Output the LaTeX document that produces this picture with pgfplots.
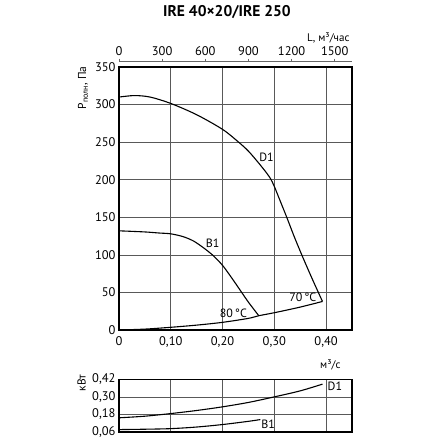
\documentclass[border=0pt]{standalone}
\usepackage{pgfplots}
\pgfplotsset{compat=1.18}
\usepackage{fontspec}
\setmainfont{PT Sans}
\begin{document}
\begin{tikzpicture}
\path[use as bounding box] (0pt,0pt) rectangle (440pt,-440pt);
\node[font=\bfseries\fontsize{15.5}{17}\selectfont] at (227pt,-12.5pt) {IRE 40×20/IRE 250};
\node[anchor=east,font=\fontsize{11}{12}\selectfont] at (353pt,-38pt) {L, м³/час};
\node[anchor=east,font=\fontsize{11}{12}\selectfont] at (344pt,-365pt) {м³/с};
\node[rotate=90,font=\fontsize{11.5}{12}\selectfont] at (83pt,-88pt) {P\textsubscript{полн}, Па};
\node[rotate=90,font=\fontsize{11.5}{12}\selectfont] at (81.5pt,-383pt) {кВт};

% top flow axis (m3/h)
\begin{axis}[at={(119pt,-61.7pt)}, anchor=north west, scale only axis,
  width=233pt, height=1pt, xmin=0, xmax=1620, ymin=0, ymax=1,
  axis x line=top, axis y line=none, axis line style={-, black!60, line width=0.7pt},
  xtick={0,300,600,900,1200,1500}, tick align=outside, major tick length=3pt,
  tick style={black!60, line width=0.6pt},
  tick label style={font=\fontsize{12.5}{14}\selectfont},
  /pgf/number format/assume math mode=true,
  /pgf/number format/set thousands separator={}]
\end{axis}

% main pressure axis
\begin{axis}[at={(119pt,-330pt)}, anchor=south west, scale only axis,
  width=233pt, height=263pt, xmin=0, xmax=0.45, ymin=0, ymax=350,
  xtick={0,0.1,0.2,0.3,0.4}, xticklabels={0,{0,10},{0,20},{0,30},{0,40}},
  ytick={0,50,...,350},
  grid=major, major grid style={black!65, line width=0.7pt},
  axis line style={black, line width=1.1pt}, major tick length=0pt,
  tick label style={font=\fontsize{12.5}{14}\selectfont},
  xticklabel style={yshift=-3pt},
  /pgf/number format/assume math mode=true, clip=false]
\addplot[black, line width=1.1pt, smooth] coordinates {
(0,310) (0.03,312) (0.06,310) (0.1,301.5) (0.15,286.5) (0.2,267) (0.231,250)
(0.25,238) (0.27,222) (0.285,209) (0.293,201) (0.30,191) (0.31,174) (0.324,150)
(0.338,125) (0.353,100) (0.37,73) (0.385,50) (0.393,38)};
\addplot[black, line width=1.1pt, smooth] coordinates {
(0,132) (0.05,130.5) (0.079,129) (0.1,128) (0.124,124.2) (0.144,118.4) (0.163,109.5)
(0.182,99) (0.2,86) (0.217,70) (0.234,53) (0.25,37) (0.27,19)};
\addplot[black, line width=1.1pt, smooth] coordinates {
(0,0) (0.05,1.2) (0.1,3.6) (0.15,6.5) (0.2,10.2) (0.25,15.5) (0.27,19) (0.3,23)
(0.35,30.5) (0.393,38)};
\node[font=\fontsize{12}{13}\selectfont] at (axis cs:0.285,230) {D1};
\node[font=\fontsize{12}{13}\selectfont] at (axis cs:0.181,116) {B1};
\node[font=\fontsize{12}{13}\selectfont] at (axis cs:0.355,44) {70\,°C};
\node[font=\fontsize{12}{13}\selectfont] at (axis cs:0.221,22.5) {80\,°C};
\end{axis}

% power axis
\begin{axis}[at={(119pt,-432pt)}, anchor=south west, scale only axis,
  width=233pt, height=52.7pt, xmin=0, xmax=0.45, ymin=0.06, ymax=0.42,
  xtick={0.1,0.2,0.3,0.4}, xticklabels={},
  ytick={0.06,0.18,0.30,0.42}, yticklabels={{0,06},{0,18},{0,30},{0,42}},
  grid=major, major grid style={black!65, line width=0.7pt},
  axis line style={black, line width=1.1pt}, major tick length=0pt,
  tick label style={font=\fontsize{12.5}{14}\selectfont},
  /pgf/number format/assume math mode=true, clip=false]
\addplot[black, line width=1.1pt, smooth] coordinates {
(0,0.157) (0.05,0.168) (0.1,0.186) (0.15,0.207) (0.2,0.232) (0.25,0.262) (0.3,0.30)
(0.35,0.341) (0.393,0.387)};
\addplot[black, line width=1.1pt, smooth] coordinates {
(0,0.0765) (0.05,0.079) (0.1,0.083) (0.15,0.094) (0.2,0.111) (0.25,0.133) (0.273,0.145)};
\node[font=\fontsize{12}{13}\selectfont] at (axis cs:0.417,0.373) {D1};
\node[font=\fontsize{12}{13}\selectfont] at (axis cs:0.288,0.111) {B1};
\end{axis}
\end{tikzpicture}
\end{document}
